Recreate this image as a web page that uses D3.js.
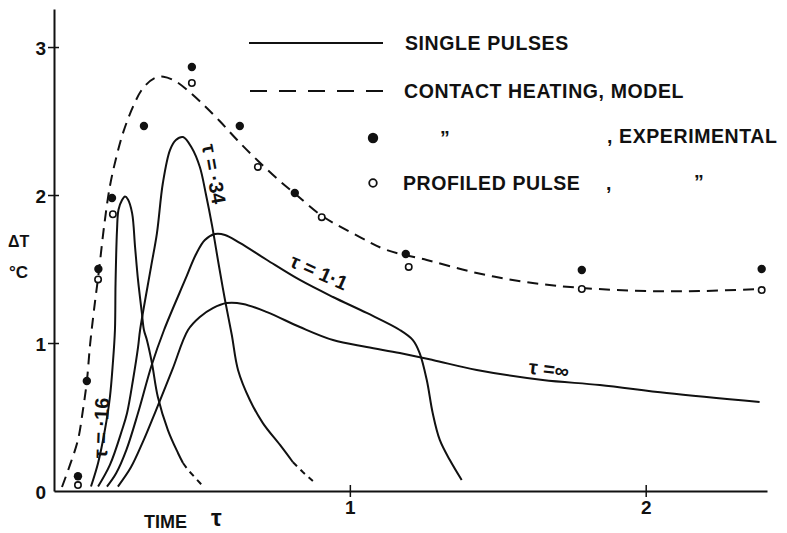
<!DOCTYPE html>
<html lang="en">
<head>
<meta charset="UTF-8">
<title>Single pulses vs contact heating</title>
<script src="https://d3js.org/d3.v7.min.js"></script>
<style>
  body { margin: 0; background: #fff; }
  svg { display: block; }
  .lbl { font-family: "Liberation Sans", Arial, sans-serif; font-weight: bold; fill: #111; }
  .tick text { font-family: "Liberation Sans", Arial, sans-serif; font-weight: bold; font-size: 19px; fill: #111; }
  .curve { fill: none; stroke: #111; stroke-width: 2; }
</style>
</head>
<body>
<div id="chart"></div>
<script>
// single pulse responses, [tau, deltaT]
const pulse16 = [[0.125,0.03],[0.149,0.189],[0.172,0.412],[0.189,0.635],[0.199,0.865],[0.206,1.088],[0.208,1.40],[0.213,1.764],[0.218,1.90],[0.230,1.966],[0.240,1.99],[0.250,1.97],[0.264,1.878],[0.274,1.649],[0.284,1.426],[0.297,1.203],[0.304,1.088],[0.314,1.02],[0.331,0.865],[0.351,0.635],[0.385,0.412],[0.419,0.257],[0.436,0.189]];
const tail16 = [[0.453,0.142],[0.500,0.04]];
const pulse34 = [[0.149,0.03],[0.189,0.176],[0.230,0.412],[0.247,0.527],[0.267,0.75],[0.284,0.97],[0.291,1.088],[0.328,1.514],[0.348,1.743],[0.368,2.081],[0.392,2.304],[0.412,2.372],[0.436,2.392],[0.466,2.318],[0.493,2.189],[0.514,2.0],[0.534,1.797],[0.557,1.527],[0.578,1.291],[0.601,1.054],[0.622,0.818],[0.662,0.615],[0.706,0.459],[0.764,0.311],[0.807,0.196]];
const tail34 = [[0.841,0.128],[0.875,0.068]];
const pulse11 = [[0.179,0.03],[0.21,0.12],[0.245,0.28],[0.284,0.527],[0.33,0.85],[0.372,1.088],[0.443,1.426],[0.48,1.60],[0.51,1.696],[0.544,1.736],[0.578,1.730],[0.628,1.676],[0.720,1.561],[0.831,1.426],[0.943,1.311],[1.057,1.203],[1.169,1.088],[1.213,1.020],[1.236,0.932],[1.260,0.75],[1.280,0.527],[1.304,0.345],[1.338,0.209],[1.378,0.074]];
const pulseInf = [[0.216,0.03],[0.26,0.16],[0.30,0.33],[0.341,0.527],[0.40,0.82],[0.453,1.088],[0.493,1.176],[0.537,1.236],[0.584,1.270],[0.639,1.264],[0.720,1.209],[0.831,1.108],[0.943,1.020],[1.057,0.973],[1.169,0.932],[1.280,0.885],[1.429,0.818],[1.652,0.75],[1.845,0.716],[2.071,0.662],[2.385,0.601]];

// contact heating model (dashed)
const modelCurve = [[0.027,0.027],[0.054,0.176],[0.081,0.345],[0.098,0.55],[0.111,0.74],[0.122,0.99],[0.135,1.22],[0.152,1.49],[0.170,1.80],[0.189,2.06],[0.21,2.25],[0.235,2.43],[0.27,2.61],[0.30,2.72],[0.34,2.79],[0.37,2.80],[0.41,2.77],[0.45,2.71],[0.50,2.62],[0.56,2.50],[0.62,2.37],[0.69,2.23],[0.76,2.10],[0.814,2.01],[0.905,1.86],[1.034,1.716],[1.125,1.628],[1.26,1.561],[1.429,1.473],[1.6,1.41],[1.784,1.372],[2.014,1.351],[2.182,1.351],[2.392,1.365]];

// experimental points
const contactExp = [[0.081,0.10],[0.111,0.743],[0.150,1.50],[0.196,1.98],[0.304,2.466],[0.466,2.865],[0.628,2.466],[0.814,2.014],[1.189,1.601],[1.784,1.493],[2.392,1.50]];
const profiledExp = [[0.081,0.04],[0.149,1.43],[0.199,1.87],[0.466,2.757],[0.689,2.19],[0.905,1.85],[1.199,1.514],[1.784,1.365],[2.392,1.358]];

const yTicks = [0, 1, 2, 3];
const xTicks = [1, 2];

const width = 787, height = 533;
const svg = d3.select("#chart").append("svg")
    .attr("width", width)
    .attr("height", height);

const x = d3.scaleLinear().domain([0, 2.41]).range([54, 767]);
const y = d3.scaleLinear().domain([0, 3.257]).range([491, 9]);

// axes
const yAxis = svg.append("g")
    .attr("transform", `translate(${x(0)},0)`)
    .call(d3.axisLeft(y).tickValues(yTicks).tickSize(6).tickSizeOuter(0).tickPadding(2).tickFormat(d3.format("d")));
yAxis.select(".domain").attr("stroke", "#111").attr("stroke-width", 2);
yAxis.selectAll(".tick line").attr("x1", 5).attr("stroke", "#111").attr("stroke-width", 1.5)
    .filter(d => d === 0).remove();
yAxis.selectAll(".tick text").attr("dy", "0.38em");

const xAxis = svg.append("g")
    .attr("transform", `translate(0,${y(0)})`)
    .call(d3.axisBottom(x).tickValues(xTicks).tickSize(6).tickSizeOuter(0).tickPadding(4).tickFormat(d3.format("d")));
xAxis.select(".domain").attr("stroke", "#111").attr("stroke-width", 2);
xAxis.selectAll(".tick line").attr("y1", -6).attr("stroke", "#111").attr("stroke-width", 1.5);

// axis titles
svg.append("text").attr("class", "lbl").attr("x", 8).attr("y", 247).style("font-size", "16px").text("ΔT");
svg.append("text").attr("class", "lbl").attr("x", 9).attr("y", 278).style("font-size", "17px").text("°C");
svg.append("text").attr("class", "lbl").attr("x", 144).attr("y", 528).style("font-size", "18px").text("TIME");
svg.append("text").attr("class", "lbl").attr("x", 211).attr("y", 526).style("font-size", "24px").text("τ");

// curves
const line = d3.line()
    .x(d => x(d[0]))
    .y(d => y(d[1]))
    .curve(d3.curveCatmullRom.alpha(0.5));

[pulse16, pulse34, pulse11, pulseInf].forEach(s => {
    svg.append("path").attr("class", "curve").attr("d", line(s));
});
[[pulse16, tail16], [pulse34, tail34]].forEach(([s, t]) => {
    svg.append("path").attr("class", "curve")
        .attr("stroke-dasharray", "6,5")
        .attr("d", d3.line().x(d => x(d[0])).y(d => y(d[1]))([s[s.length - 1], ...t]));
});

svg.append("path").attr("class", "curve")
    .attr("stroke-dasharray", "11,7")
    .attr("d", line(modelCurve));

// points
svg.selectAll(".exp").data(contactExp).join("circle")
    .attr("class", "exp")
    .attr("cx", d => x(d[0])).attr("cy", d => y(d[1]))
    .attr("r", 4.2).attr("fill", "#111");
svg.selectAll(".prof").data(profiledExp).join("circle")
    .attr("class", "prof")
    .attr("cx", d => x(d[0])).attr("cy", d => y(d[1]))
    .attr("r", 3.2).attr("fill", "#fff").attr("stroke", "#111").attr("stroke-width", 1.6);

// curve labels
const curveLabels = [
    { text: "τ = ·16", x: 101, y: 428, r: -88 },
    { text: "τ = ·34", x: 214, y: 174, r: 80 },
    { text: "τ = 1·1", x: 319, y: 272, r: 24 },
    { text: "τ =∞", x: 549, y: 369, r: 7 }
];
svg.selectAll(".clbl").data(curveLabels).join("text")
    .attr("class", "lbl clbl")
    .attr("text-anchor", "middle")
    .attr("transform", d => `translate(${d.x},${d.y}) rotate(${d.r})`)
    .attr("dy", "0.35em")
    .style("font-size", "20px")
    .text(d => d.text);

// legend
const lg = svg.append("g").attr("class", "legend");
lg.append("line").attr("x1", 249).attr("x2", 383).attr("y1", 43).attr("y2", 43)
    .attr("stroke", "#111").attr("stroke-width", 2);
lg.append("line").attr("x1", 250).attr("x2", 384).attr("y1", 91).attr("y2", 91)
    .attr("stroke", "#111").attr("stroke-width", 2).attr("stroke-dasharray", "17,12");
lg.append("circle").attr("cx", 373).attr("cy", 138).attr("r", 5.2).attr("fill", "#111");
lg.append("circle").attr("cx", 373).attr("cy", 183).attr("r", 3.8).attr("fill", "#fff")
    .attr("stroke", "#111").attr("stroke-width", 1.8);

const legendText = [
    { t: "SINGLE PULSES", x: 405, y: 50 },
    { t: "CONTACT HEATING, MODEL", x: 404, y: 98 },
    { t: "”", x: 440, y: 145 },
    { t: ", EXPERIMENTAL", x: 607, y: 143 },
    { t: "PROFILED PULSE", x: 403, y: 190 },
    { t: ",", x: 606, y: 190 },
    { t: "”", x: 694, y: 189 }
];
lg.selectAll("text").data(legendText).join("text")
    .attr("class", "lbl")
    .attr("x", d => d.x).attr("y", d => d.y)
    .style("font-size", "19.5px")
    .style("letter-spacing", "0.6px")
    .text(d => d.t);
</script>
</body>
</html>
